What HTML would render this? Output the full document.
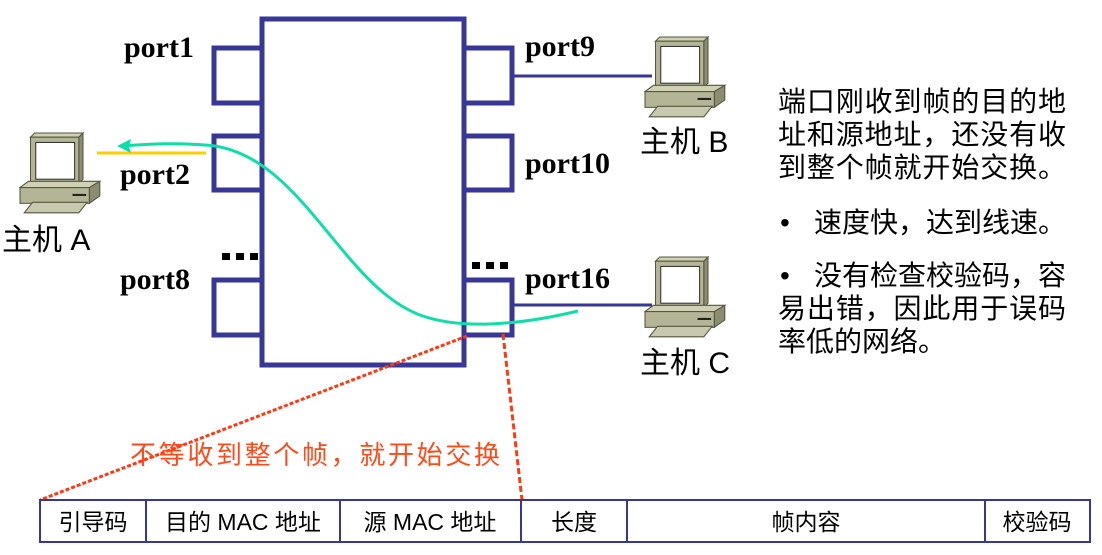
<!DOCTYPE html>
<html><head><meta charset="utf-8"><style>
body{margin:0;background:#fff;}
svg{display:block;}
.p{font-family:"Liberation Serif",serif;font-weight:bold;font-size:30px;fill:#000;}
.h{font-family:"Liberation Sans","Noto Sans CJK SC",sans-serif;font-size:30px;fill:#000;}
.t{font-family:"Liberation Sans","Noto Sans CJK SC",sans-serif;font-size:28px;fill:#000;}
.c{font-family:"Liberation Sans","Noto Sans CJK SC",sans-serif;font-size:23px;fill:#000;text-anchor:middle;}
</style></head><body>
<svg width="1102" height="555" viewBox="0 0 1102 555" xmlns="http://www.w3.org/2000/svg">
<defs>
<g id="pc" stroke="#555540" stroke-width="1">
  <polygon points="10,4 14,0 60,0 56,4" fill="#d0d0b4"/>
  <polygon points="56,4 60,0 60,44 56,48" fill="#8c8c70"/>
  <rect x="10" y="4" width="46" height="44" fill="#b4b496"/>
  <rect x="15" y="9" width="37" height="35" fill="#fff" stroke="#333"/>
  <polygon points="0,52 8,46 76,46 66,52" fill="#d0d0b4"/>
  <polygon points="66,52 76,46 76,60 66,67" fill="#8c8c70"/>
  <rect x="0" y="52" width="66" height="15" fill="#b4b496"/>
  <line x1="50" y1="59" x2="63" y2="59" stroke="#222" stroke-width="2"/>
  <polygon points="4,76 12,66 64,66 56,76" fill="#c8c8ae"/>
</g>
</defs>
<rect x="262" y="19" width="202" height="346" fill="#fff" stroke="#373797" stroke-width="5"/>
<g fill="#fff" stroke="#373797" stroke-width="5">
<rect x="214" y="48" width="48" height="55"/>
<rect x="214" y="136" width="48" height="54"/>
<rect x="214" y="280" width="48" height="55"/>
<rect x="464" y="48" width="48" height="55"/>
<rect x="464" y="136" width="48" height="54"/>
<rect x="464" y="280" width="48" height="55"/>
</g>
<line x1="512" y1="76" x2="652" y2="76" stroke="#373797" stroke-width="3"/>
<line x1="512" y1="305" x2="652" y2="305" stroke="#373797" stroke-width="3"/>
<line x1="97" y1="153" x2="206" y2="153" stroke="#ffcc00" stroke-width="3"/>
<g fill="#000">
<rect x="222" y="253" width="8" height="7"/><rect x="236" y="253" width="8" height="7"/><rect x="250" y="253" width="8" height="7"/>
<rect x="472" y="262" width="8" height="7"/><rect x="486" y="262" width="8" height="7"/><rect x="500" y="262" width="8" height="7"/>
</g>
<path d="M578,311 C520,325 460,330 420,315 C340,285 300,150 205,145 C170,142 140,145 122,146" fill="none" stroke="#11ddaa" stroke-width="3"/>
<polygon points="117,146 131,139 129,147 131,153" fill="#11ddaa"/>
<line x1="467" y1="336" x2="40" y2="500" stroke="#ff3a10" stroke-width="3" stroke-dasharray="4,2"/>
<line x1="503" y1="334" x2="522" y2="500" stroke="#ff3a10" stroke-width="3" stroke-dasharray="6,3"/>
<use href="#pc" transform="translate(20,133) scale(1.05)"/>
<use href="#pc" transform="translate(645,37) scale(1.05)"/>
<use href="#pc" transform="translate(645,257) scale(1.05)"/>
<text class="p" x="124" y="57">port1</text>
<text class="p" x="120" y="184">port2</text>
<text class="p" x="120" y="289">port8</text>
<text class="p" x="525" y="56">port9</text>
<text class="p" x="525" y="173">port10</text>
<text class="p" x="525" y="288">port16</text>
<text class="h" x="2" y="250">主机 A</text>
<text class="h" x="640" y="152">主机 B</text>
<text class="h" x="640" y="373">主机 C</text>
<g class="t">
<text x="778" y="111" textLength="288">端口刚收到帧的目的地</text>
<text x="778" y="144" textLength="288">址和源地址，还没有收</text>
<text x="778" y="177" textLength="288">到整个帧就开始交换。</text>
<text x="780" y="232">•</text><text x="814" y="232">速度快，达到线速。</text>
<text x="780" y="285">•</text><text x="814" y="285">没有检查校验码，容</text>
<text x="778" y="318" textLength="288">易出错，因此用于误码</text>
<text x="778" y="351">率低的网络。</text>
</g>
<text x="130" y="464" textLength="370" style="font-family:'Liberation Sans','Noto Sans CJK SC',sans-serif;font-size:26px;fill:#ff4a1a;">不等收到整个帧，就开始交换</text>
<rect x="40" y="500" width="1050" height="42" fill="#fff" stroke="#373797" stroke-width="2"/>
<g stroke="#373797" stroke-width="2">
<line x1="146" y1="500" x2="146" y2="542"/><line x1="340" y1="500" x2="340" y2="542"/>
<line x1="521" y1="500" x2="521" y2="542"/><line x1="627" y1="500" x2="627" y2="542"/>
<line x1="985" y1="500" x2="985" y2="542"/>
</g>
<text class="c" x="93" y="530">引导码</text>
<text class="c" x="243" y="530">目的 MAC 地址</text>
<text class="c" x="430" y="530">源 MAC 地址</text>
<text class="c" x="574" y="530">长度</text>
<text class="c" x="806" y="530">帧内容</text>
<text class="c" x="1037" y="530">校验码</text>
</svg>
</body></html>
